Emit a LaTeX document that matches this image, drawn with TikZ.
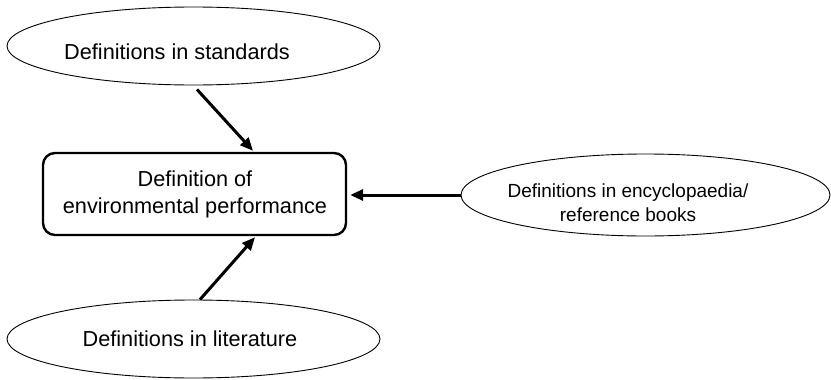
\documentclass[tikz,border=0pt]{standalone}
\usepackage{fontspec}
\setmainfont{Liberation Sans}
\usetikzlibrary{shapes.geometric,arrows.meta}
\begin{document}
\begin{tikzpicture}[x=1pt,y=-1pt,
  oval/.style={draw,ellipse,line width=0.9pt,inner sep=0pt},
  txt/.style={font=\fontsize{21.7}{27}\selectfont,align=center,inner sep=0pt},
  rbox/.style={draw,rounded corners=12pt,line width=2.4pt,inner sep=0pt},
  arr/.style={line width=3pt,-{Triangle[length=13pt,width=11pt]}}]
\useasboundingbox (0,0) rectangle (831,380);
\node[oval,minimum width=373pt,minimum height=78pt] (std) at (193.5,46) {};
\node[txt] (stdt) at (177,52) {Definitions in standards};
\node[rbox,minimum width=303pt,minimum height=82pt] (box) at (194.5,194) {};
\node[txt] (boxt) at (195,194) {Definition of\\environmental performance};
\node[oval,minimum width=369pt,minimum height=82pt] (ref) at (645.5,195) {};
\node[txt,font=\fontsize{19}{24}\selectfont] (reft) at (628,203) {Definitions in encyclopaedia/\\reference books};
\node[oval,minimum width=373pt,minimum height=78pt] (lit) at (193.5,339) {};
\node[txt] (litt) at (190,339) {Definitions in literature};
\draw[arr] ([xshift=3.5pt,yshift=-4pt]std.south) -- ([xshift=58.5pt,yshift=1pt]box.north);
\draw[arr] ([xshift=6.5pt]lit.north) -- ([xshift=60.5pt,yshift=-1pt]box.south);
\draw[arr] (ref.west) -- ([xshift=3pt]ref.west -| box.east);
\end{tikzpicture}
\end{document}
